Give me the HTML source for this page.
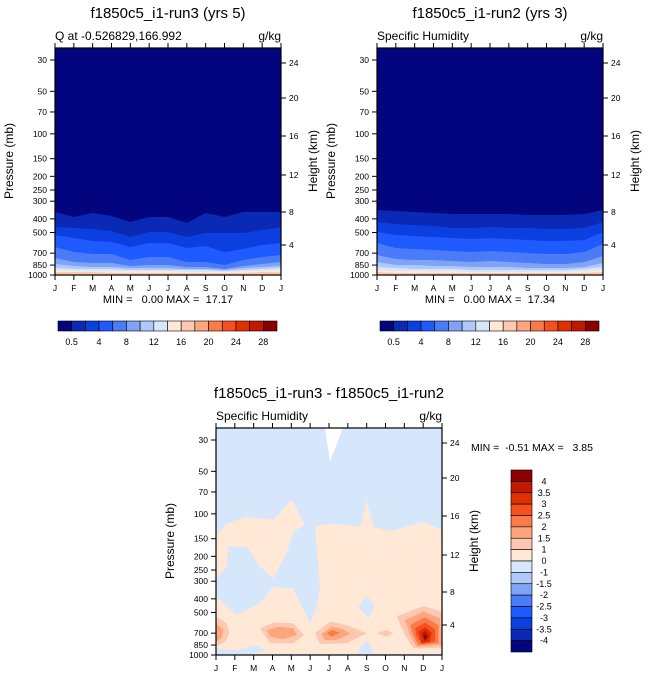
<!DOCTYPE html>
<html><head><meta charset="utf-8"><style>
html,body{margin:0;padding:0;background:#fff;}
svg{display:block;font-family:"Liberation Sans",Arial,sans-serif;}
text{white-space:pre;}
</style></head><body>
<svg id="s" width="648" height="678" viewBox="0 0 648 678" xmlns="http://www.w3.org/2000/svg"></svg>
<script>
const S=document.getElementById('s');let h='';
const C=['#03057F','#0A2AB5','#0B3FE0','#1E5AFF','#4B7CF7','#7EA3F7','#B0C9FA','#D6E6FB','#FFE8D6','#FDC8AF','#FDA57E','#FB7B48','#F74F1F','#E03000','#BF1A00','#8B0000'];
function py(p){return 60+141.2*Math.log10(p/30);}
function panel(x0,y0,title,sub,bands){
 const W=226,H=227;
 h+=`<text x="${x0+113}" y="${y0-30}" font-size="15" text-anchor="middle">${title}</text>`;
 h+=`<text x="${x0}" y="${y0-8}" font-size="12">${sub}</text><text x="${x0+W}" y="${y0-8}" font-size="12" text-anchor="end">g/kg</text>`;
 h+=`<rect x="${x0}" y="${y0}" width="${W}" height="${H}" fill="${bands.bg}"/>`;
 h+=bands.inner;
 h+=`<rect x="${x0}" y="${y0}" width="${W}" height="${H}" fill="none" stroke="#000" stroke-width="1.2"/>`;
 [30,50,70,100,150,200,250,300,400,500,700,850,1000].forEach(p=>{const y=y0+py(p)-48;
  h+=`<line x1="${x0-5}" y1="${y}" x2="${x0}" y2="${y}" stroke="#000"/><text x="${x0-8}" y="${y+3}" font-size="8.5" text-anchor="end">${p}</text>`;});
 [[24,63],[20,98],[16,136],[12,175],[8,212],[4,245]].forEach(([k,y])=>{y=y-48+y0;
  h+=`<line x1="${x0+W}" y1="${y}" x2="${x0+W+5}" y2="${y}" stroke="#000"/><text x="${x0+W+8}" y="${y+3}" font-size="8.5">${k}</text>`;});
 'JFMAMJJASONDJ'.split('').forEach((m,i)=>{const x=x0+i*W/12;
  h+=`<line x1="${x}" y1="${y0+H}" x2="${x}" y2="${y0+H+5}" stroke="#000"/><line x1="${x}" y1="${y0}" x2="${x}" y2="${y0-5}" stroke="#000"/><text x="${x}" y="${y0+H+16}" font-size="8.5" text-anchor="middle">${m}</text>`;});
 h+=`<text transform="translate(${x0-42},${y0+113}) rotate(-90)" font-size="12" text-anchor="middle">Pressure (mb)</text>`;
 h+=`<text transform="translate(${x0+W+36},${y0+113}) rotate(-90)" font-size="12" text-anchor="middle">Height (km)</text>`;
}
function wave(x0,ys){const n=ys.length-1;return ys.map((y,i)=>`${(x0+i*226/n).toFixed(1)},${y}`).join(' ');}
function bandsTop(x0,B){let s='';for(let i=0;i<B.length;i++){s+=`<polygon points="${wave(x0,B[i])} ${x0+226},275 ${x0},275" fill="${C[i+1]}"/>`;}return s;}
const BL=[[212,217,213,216,222,217,217,223,213,217,212,212,212],
[227,228,229,231,237,232,232,237,233,233,233,230,227],
[235,238,241,242,247,243,243,248,246,252,249,245,243],
[247,252,254,254,260,257,257,262,262,265,260,257,255],
[258,262,263,263,266,265,265,267,267,269,266,264,262],
[264,266,267,267,268,268,268,269,269,270,268,267,266],
[268,269,269,269,270,270,270,270,270,271,270,269,268],
[270,271,271,271,271,271,271,272,272,272,271,271,270],
[272,272,272,273,273,273,273,273,273,273,273,272,272]];
const BR=[[210,211,212,213,214,214,214,214,215,215,215,214,210],
[222,224,225,226,228,228,227,228,228,229,229,228,222],
[232,235,236,237,238,239,238,239,240,241,241,240,232],
[243,248,249,250,251,252,251,252,253,254,254,252,244],
[255,259,260,260,261,262,261,262,263,264,264,262,256],
[262,265,265,266,266,267,267,267,268,268,268,267,263],
[267,268,269,269,269,270,270,270,270,270,270,269,267],
[270,271,271,271,271,272,272,272,272,272,272,271,270],
[272,273,273,273,273,273,273,273,273,273,273,273,272]];
panel(55,48,'f1850c5_i1-run3 (yrs 5)','Q at -0.526829,166.992',{bg:C[0],inner:bandsTop(55,BL)});
panel(377,48,'f1850c5_i1-run2 (yrs 3)','Specific Humidity',{bg:C[0],inner:bandsTop(377,BR)});
h+=`<text x="168" y="303" font-size="11" text-anchor="middle">MIN =   0.00 MAX =  17.17</text>`;
h+=`<text x="490" y="303" font-size="11" text-anchor="middle">MIN =   0.00 MAX =  17.34</text>`;
[58,380].forEach(x0=>{const w=219/16;for(let i=0;i<16;i++)h+=`<rect x="${x0+i*w}" y="321" width="${w}" height="10" fill="${C[i]}" stroke="#000" stroke-width="0.6"/>`;
 ['0.5','4','8','12','16','20','24','28'].forEach((l,j)=>{h+=`<text x="${x0+(2*j+1)*w}" y="345" font-size="9" text-anchor="middle">${l}</text>`;});});
const inner=`<g transform="translate(160,380) scale(0.3333)">
<polygon points="168,600 168,470 200,430 260,410 340,420 395,358 435,435 400,455 380,520 340,595 300,560 260,500 205,500 200,560" fill="#FFE8D6"/>
<polygon points="168,650 230,705 300,670 340,620 400,625 430,690 450,730 470,680 480,620 465,440 510,430 600,440 620,360 640,440 690,455 790,425 845,450 845,822 168,822" fill="#FFE8D6"/>
<polygon points="595,680 620,645 645,680 625,715" fill="#D6E6FB"/>
<polygon points="600,800 625,780 640,822 595,822" fill="#D6E6FB"/>
<polygon points="170,805 230,812 280,795 320,810 280,822 170,822" fill="#D6E6FB"/>
<polygon points="495,145 548,145 510,245" fill="#fff"/>
<polygon points="168,710 200,730 208,760 195,785 168,800" fill="#FDC8AF"/>
<polygon points="168,730 190,750 185,775 168,785" fill="#FDA57E"/>
<polygon points="300,745 340,728 400,730 432,765 400,790 330,790" fill="#FDC8AF"/>
<polygon points="320,750 360,740 400,745 410,765 370,778 330,770" fill="#FDA57E"/>
<polygon points="465,760 510,725 560,735 620,760 560,790 480,792" fill="#FDC8AF"/>
<polygon points="485,762 515,740 550,748 570,762 530,780 495,780" fill="#FDA57E"/>
<polygon points="500,760 515,750 540,758 515,770" fill="#FB7B48"/>
<polygon points="650,760 680,750 700,760 680,770" fill="#FDC8AF"/>
<polygon points="710,710 790,678 845,695 845,805 760,805 735,765" fill="#FDC8AF"/>
<polygon points="735,720 790,695 840,715 845,795 770,800 750,765" fill="#FDA57E"/>
<polygon points="750,735 795,712 835,735 835,790 775,795 760,765" fill="#FB7B48"/>
<polygon points="765,745 795,728 825,748 825,785 785,792 770,770" fill="#F74F1F"/>
<polygon points="775,755 795,742 815,758 810,785 785,790" fill="#E03000"/>
<polygon points="785,762 795,752 808,768 795,785" fill="#BF1A00"/>
<polygon points="790,768 796,762 802,772 795,780" fill="#8B0000"/>
</g>`;
panel(216,428,'f1850c5_i1-run3 - f1850c5_i1-run2','Specific Humidity',{bg:'#D6E6FB',inner});
h+=`<text x="471" y="451" font-size="10.5">MIN =  -0.51 MAX =   3.85</text>`;
const bl=['4','3.5','3','2.5','2','1.5','1','0','-1','-1.5','-2','-2.5','-3','-3.5','-4'];
const bh=182/16;
for(let i=0;i<16;i++)h+=`<rect x="511" y="${470+i*bh}" width="21" height="${bh}" fill="${C[15-i]}" stroke="#000" stroke-width="0.6"/>`;
bl.forEach((l,i)=>{h+=`<text x="544" y="${470+(i+1)*bh+3}" font-size="9" text-anchor="middle">${l}</text>`;});
S.innerHTML=h;
</script>
</body></html>
